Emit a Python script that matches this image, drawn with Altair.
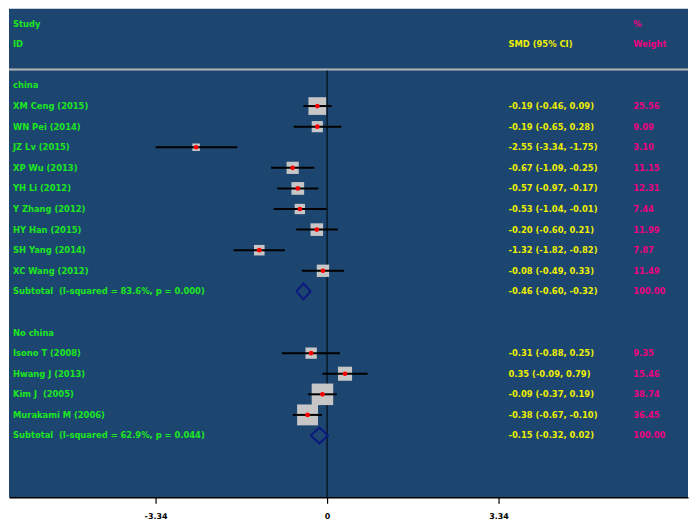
import altair as alt
import pandas as pd

# ---------------- data ----------------
china_studies = ["XM Ceng (2015)", "WN Pei (2014)", "JZ Lv (2015)", "XP Wu (2013)",
                 "YH Li (2012)", "Y Zhang (2012)", "HY Han (2015)", "SH Yang (2014)",
                 "XC Wang (2012)"]
china_smd = [-0.19, -0.19, -2.55, -0.67, -0.57, -0.53, -0.20, -1.32, -0.08]
china_lo = [-0.46, -0.65, -3.34, -1.09, -0.97, -1.04, -0.60, -1.82, -0.49]
china_hi = [0.09, 0.28, -1.75, -0.25, -0.17, -0.01, 0.21, -0.82, 0.33]
china_w = [25.56, 9.09, 3.10, 11.15, 12.31, 7.44, 11.99, 7.87, 11.49]
china_sub = [-0.46, -0.60, -0.32]
china_sub_label = "Subtotal\u00a0 (I-squared = 83.6%, p = 0.000)"

other_studies = ["Isono T (2008)", "Hwang J (2013)", "Kim J\u00a0 (2005)", "Murakami M (2006)"]
other_smd = [-0.31, 0.35, -0.09, -0.38]
other_lo = [-0.88, -0.09, -0.37, -0.67]
other_hi = [0.25, 0.79, 0.19, -0.10]
other_w = [9.35, 15.46, 38.74, 36.45]
other_sub = [-0.15, -0.32, 0.02]
other_sub_label = "Subtotal\u00a0 (I-squared = 62.9%, p = 0.044)"

groups = [
    ("china", china_studies, china_smd, china_lo, china_hi, china_w, china_sub, china_sub_label),
    ("No china", other_studies, other_smd, other_lo, other_hi, other_w, other_sub, other_sub_label),
]

tick_values = [-3.34, 0, 3.34]

# ---------------- build tables ----------------
def fmt(v):
    return f"{v:.2f}"

study_rows, text_rows, diamond_rows = [], [], []
text_rows.append(dict(row=0, label="Study", smd="", w="%"))
text_rows.append(dict(row=1, label="ID", smd="SMD (95% CI)", w="Weight"))
r = 3
for gi, (gname, names, smd, lo, hi, w, sub, sublab) in enumerate(groups):
    text_rows.append(dict(row=r, label=gname, smd="", w=""))
    r += 1
    for n, e, l, h, ww in zip(names, smd, lo, hi, w):
        study_rows.append(dict(row=r, est=e, lo=l, hi=h, w=ww))
        text_rows.append(dict(row=r, label=n, smd=f"{fmt(e)} ({fmt(l)}, {fmt(h)})", w=fmt(ww)))
        r += 1
    e, l, h = sub
    text_rows.append(dict(row=r, label=sublab, smd=f"{fmt(e)} ({fmt(l)}, {fmt(h)})", w="100.00"))
    dh = 0.38
    for k, (xx, yy) in enumerate([(l, r), (e, r - dh), (h, r), (e, r + dh), (l, r)]):
        diamond_rows.append(dict(g=gi, o=k, x=xx, y=yy))
    r += 2

studies = pd.DataFrame(study_rows)
texts = pd.DataFrame(text_rows)
diamonds = pd.DataFrame(diamond_rows)
zero = pd.DataFrame({"z": [0]})

# ---------------- layout ----------------
W, H = 681, 490
PX_PER_UNIT = 51.5
X0 = 319.0
xscale = alt.Scale(domain=[-X0 / PX_PER_UNIT, (W - X0) / PX_PER_UNIT], nice=False, zero=False)
ROW0, ROWH = 15.0, 20.65
yscale = alt.Scale(domain=[-ROW0 / ROWH, (H - ROW0) / ROWH], reverse=True, nice=False, zero=False)

xaxis = alt.Axis(values=tick_values, title=None, grid=False, tickSize=6, labelPadding=9,
                 labelExpr="datum.value == 0 ? '0' : (datum.value < 0 ? '-' : '') + format(abs(datum.value), '.2f')")

GREEN = "#1ee61e"
YELLOW = "#eeee00"
PINK = "#ee0080"
FONT = "DejaVu Sans"
FS = 8.4

base_s = alt.Chart(studies)
yenc = alt.Y("row:Q", scale=yscale, axis=None)

boxes = base_s.mark_point(shape="square", filled=True, color="#c6c6c6", opacity=1).encode(
    x=alt.X("est:Q", scale=xscale, axis=xaxis),
    y=yenc,
    size=alt.Size("w:Q", scale=alt.Scale(domain=[0, 40], range=[22, 480]), legend=None),
)
ci = base_s.mark_rule(color="black", strokeWidth=2).encode(
    x=alt.X("lo:Q", scale=xscale, axis=xaxis), x2="hi:Q", y=yenc)
dots = base_s.mark_point(shape="circle", filled=True, color="#ff0000", size=22, opacity=1).encode(
    x=alt.X("est:Q", scale=xscale, axis=xaxis), y=yenc)

dia = alt.Chart(diamonds).mark_line(color="#0c1a80", strokeWidth=2).encode(
    x=alt.X("x:Q", scale=xscale, axis=xaxis),
    y=alt.Y("y:Q", scale=yscale, axis=None),
    detail="g:N",
    order="o:Q",
)

zline = alt.Chart(zero).mark_rule(color="black", strokeWidth=1).encode(
    x=alt.X("z:Q", scale=xscale, axis=xaxis), y=alt.value(62), y2=alt.value(H))

sep = alt.Chart(zero).mark_rule(color="#b8b8b8", strokeWidth=2).encode(
    x=alt.value(0), x2=alt.value(W), y=alt.value(61))

base_t = alt.Chart(texts)
tlab = base_t.mark_text(align="left", baseline="middle", font=FONT, fontSize=FS,
                        fontWeight="bold", color=GREEN).encode(
    x=alt.value(4), y=yenc, text="label:N")
tsmd = base_t.mark_text(align="left", baseline="middle", font=FONT, fontSize=FS,
                        fontWeight="bold", color=YELLOW).encode(
    x=alt.value(501), y=yenc, text="smd:N")
tw = base_t.mark_text(align="left", baseline="middle", font=FONT, fontSize=FS,
                      fontWeight="bold", color=PINK).encode(
    x=alt.value(626), y=yenc, text="w:N")

chart = alt.layer(sep, zline, boxes, ci, dots, dia, tlab, tsmd, tw).properties(
    width=W, height=H, padding={"left": 0, "top": 0, "right": 0, "bottom": 0},
    background="white",
).configure_view(fill="#1c4670", strokeWidth=0).configure_axis(
    domainColor="black", domainWidth=1.5, tickColor="black", tickWidth=1.2,
    labelColor="black", labelFont=FONT, labelFontWeight="bold", labelFontSize=8,
)

chart.save("out.html", embed_options={"renderer": "svg", "actions": False})
